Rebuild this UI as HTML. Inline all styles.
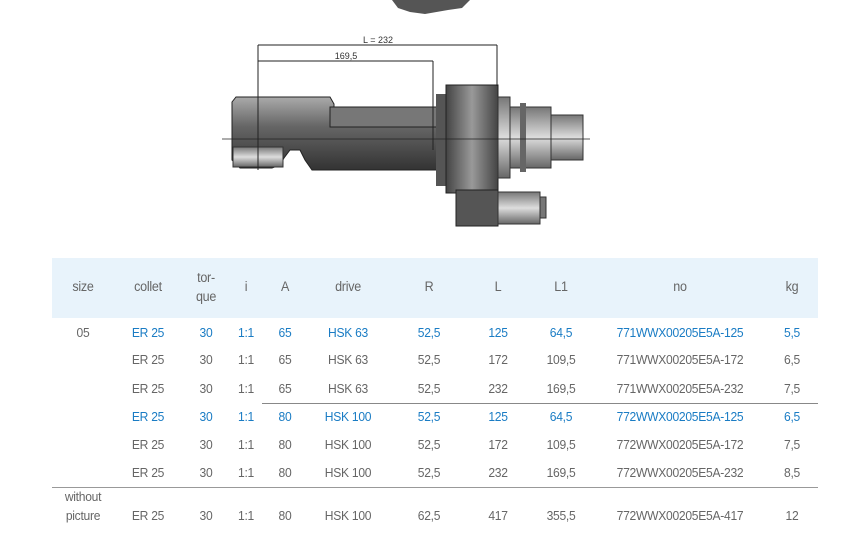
<!DOCTYPE html>
<html><head><meta charset="utf-8"><style>
body{margin:0;width:859px;height:548px;background:#fff;position:relative;overflow:hidden;font-family:"Liberation Sans",sans-serif;}
.t{position:absolute;font-size:13px;color:#666;transform:translateX(-50%) scaleX(0.93);white-space:nowrap;letter-spacing:-0.3px}
.b{color:#1a7cc4}
.h{color:#666;font-size:13.5px}
</style></head><body>
<svg width="859" height="250" style="position:absolute;left:0;top:0">
<defs>
<linearGradient id="g1" x1="0" y1="0" x2="0" y2="1"><stop offset="0" stop-color="#aaa"/><stop offset="0.4" stop-color="#666"/><stop offset="1" stop-color="#333"/></linearGradient>
<linearGradient id="g2" x1="0" y1="0" x2="1" y2="0"><stop offset="0" stop-color="#444"/><stop offset="0.5" stop-color="#999"/><stop offset="1" stop-color="#444"/></linearGradient>
<linearGradient id="g3" x1="0" y1="0" x2="0" y2="1"><stop offset="0" stop-color="#777"/><stop offset="0.5" stop-color="#ddd"/><stop offset="1" stop-color="#666"/></linearGradient>
</defs>
<path d="M392 0 L470 0 L462 8 L448 10 L425 14 L410 12 L398 8 Z" fill="#555"/>
<path d="M236 97 L330 97 L334 104 L334 107 L448 107 L448 170 L312 170 L305 160 L300 150 L290 150 L284 158 L280 165 L272 168 L240 168 L232 160 L232 102 Z" fill="url(#g1)" stroke="#222"/>
<rect x="330" y="107" width="118" height="20" fill="#777" stroke="#222"/>
<rect x="233" y="147" width="50" height="20" fill="url(#g3)" stroke="#333"/>
<rect x="436" y="94" width="12" height="92" fill="#555"/>
<rect x="446" y="85" width="52" height="108" fill="url(#g2)" stroke="#222"/>
<rect x="498" y="97" width="12" height="81" fill="url(#g3)" stroke="#333"/>
<rect x="510" y="107" width="41" height="61" fill="url(#g3)" stroke="#333"/>
<rect x="520" y="103" width="6" height="69" fill="#666"/>
<rect x="551" y="115" width="32" height="45" fill="url(#g3)" stroke="#333"/>
<rect x="456" y="190" width="42" height="36" fill="#555" stroke="#222"/>
<rect x="498" y="192" width="42" height="32" fill="url(#g3)" stroke="#333"/>
<rect x="540" y="197" width="6" height="21" fill="#777" stroke="#333"/>
<line x1="222" y1="139" x2="590" y2="139" stroke="#222" stroke-width="0.8"/>
<line x1="258" y1="45" x2="497" y2="45" stroke="#222"/>
<line x1="258" y1="61" x2="433" y2="61" stroke="#222"/>
<line x1="258" y1="45" x2="258" y2="170" stroke="#222"/>
<line x1="497" y1="45" x2="497" y2="86" stroke="#222"/>
<line x1="433" y1="61" x2="433" y2="150" stroke="#222"/>
<text x="378" y="43" font-size="9" fill="#333" text-anchor="middle" font-family="Liberation Sans">L = 232</text>
<text x="346" y="59" font-size="9" fill="#333" text-anchor="middle" font-family="Liberation Sans">169,5</text>
</svg>
<div style="position:absolute;left:52px;top:258px;width:766px;height:60px;background:#e8f3fb"></div>
<div style="position:absolute;left:262px;top:403px;width:556px;height:1px;background:#888"></div>
<div style="position:absolute;left:52px;top:487px;width:766px;height:1px;background:#999"></div>
<div id="c"></div>
<script>
var X=[83,148,206,246,285,348,429,498,561,680,792];
var H=["size","collet","","i","A","drive","R","L","L1","no","kg"];
var out="";
H.forEach(function(h,i){if(h)out+='<div class="t h" style="left:'+X[i]+'px;top:279px">'+h+'</div>';});
out+='<div class="t h" style="left:206px;top:270px">tor-</div><div class="t h" style="left:206px;top:289px">que</div>';
var R=[[333,1,"05","ER 25","30","1:1","65","HSK 63","52,5","125","64,5","771WWX00205E5A-125","5,5"],
[360,0,"","ER 25","30","1:1","65","HSK 63","52,5","172","109,5","771WWX00205E5A-172","6,5"],
[389,0,"","ER 25","30","1:1","65","HSK 63","52,5","232","169,5","771WWX00205E5A-232","7,5"],
[417,1,"","ER 25","30","1:1","80","HSK 100","52,5","125","64,5","772WWX00205E5A-125","6,5"],
[445,0,"","ER 25","30","1:1","80","HSK 100","52,5","172","109,5","772WWX00205E5A-172","7,5"],
[473,0,"","ER 25","30","1:1","80","HSK 100","52,5","232","169,5","772WWX00205E5A-232","8,5"],
[516,0,"","ER 25","30","1:1","80","HSK 100","62,5","417","355,5","772WWX00205E5A-417","12"]];
R.forEach(function(r){for(var i=0;i<11;i++){var v=r[i+2];if(!v)continue;var cl=(r[1]&&i>0)?"t b":"t";out+='<div class="'+cl+'" style="left:'+X[i]+'px;top:'+(r[0]-8)+'px">'+v+'</div>';}});
out+='<div class="t" style="left:83px;top:489px">without</div><div class="t" style="left:83px;top:508px">picture</div>';
document.getElementById("c").innerHTML=out;
</script>
</body></html>
